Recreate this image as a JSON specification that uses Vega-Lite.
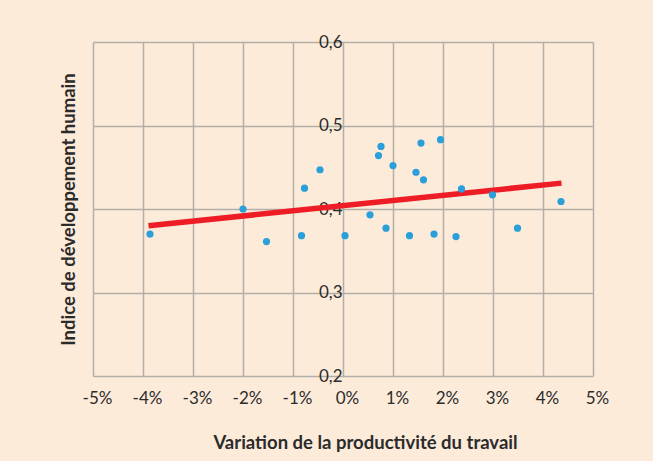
{
  "$schema": "https://vega.github.io/schema/vega-lite/v6.json",
  "autosize": {"type": "none"},
  "width": 500,
  "height": 334,
  "padding": {"left": 93, "top": 42, "right": 60, "bottom": 85},
  "background": "#FDEBDA",
  "config": {
    "view": {"stroke": null},
    "font": "Lato",
    "axis": {
      "gridColor": "#B4AEA9",
      "gridWidth": 1.5,
      "gridOpacity": 1,
      "domain": false,
      "ticks": false,
      "labelFont": "Lato",
      "labelFontSize": 17,
      "labelColor": "#2B2B2B",
      "titleFont": "Lato",
      "titleFontSize": 18.5,
      "titleFontWeight": "bold",
      "titleColor": "#2B2B2B"
    }
  },
  "datasets": {
    "points": [
      {"productivite": -3.86, "idh": 0.370},
      {"productivite": -2.00, "idh": 0.400},
      {"productivite": -1.53, "idh": 0.361},
      {"productivite": -0.83, "idh": 0.368},
      {"productivite": -0.77, "idh": 0.425},
      {"productivite": -0.46, "idh": 0.447},
      {"productivite": 0.04, "idh": 0.368},
      {"productivite": 0.54, "idh": 0.393},
      {"productivite": 0.71, "idh": 0.464},
      {"productivite": 0.76, "idh": 0.475},
      {"productivite": 0.86, "idh": 0.377},
      {"productivite": 1.00, "idh": 0.452},
      {"productivite": 1.33, "idh": 0.368},
      {"productivite": 1.46, "idh": 0.444},
      {"productivite": 1.56, "idh": 0.479},
      {"productivite": 1.61, "idh": 0.435},
      {"productivite": 1.82, "idh": 0.370},
      {"productivite": 1.95, "idh": 0.483},
      {"productivite": 2.26, "idh": 0.367},
      {"productivite": 2.37, "idh": 0.424},
      {"productivite": 2.99, "idh": 0.417},
      {"productivite": 3.49, "idh": 0.377},
      {"productivite": 4.36, "idh": 0.409}
    ],
    "tendance": [
      {"productivite": -3.89, "idh": 0.380},
      {"productivite": 4.37, "idh": 0.431}
    ]
  },
  "encoding": {
    "x": {
      "field": "productivite",
      "type": "quantitative",
      "scale": {"domain": [-5, 5], "nice": false, "zero": false},
      "axis": {
        "orient": "bottom",
        "values": [-5, -4, -3, -2, -1, 0, 1, 2, 3, 4, 5],
        "labelExpr": "datum.value + '%'",
        "labelFlush": false,
        "labelPadding": 14,
        "labelOffset": 4,
        "grid": true,
        "title": "Variation de la productivité du travail",
        "titleX": 272,
        "titleY": 72,
        "titleBaseline": "alphabetic"
      }
    },
    "y": {
      "field": "idh",
      "type": "quantitative",
      "scale": {"domain": [0.2, 0.6], "nice": false, "zero": false},
      "axis": {
        "orient": "left",
        "offset": -250,
        "values": [0.2, 0.3, 0.4, 0.5, 0.6],
        "labelExpr": "replace(format(datum.value, '.1f'), '.', ',')",
        "labelPadding": 1,
        "labelFlush": false,
        "grid": true,
        "title": "Indice de développement humain",
        "titleX": -269,
        "titleY": 167,
        "titleAngle": -90,
        "titleAlign": "center",
        "titleBaseline": "alphabetic"
      }
    }
  },
  "layer": [
    {
      "data": {"name": "tendance"},
      "mark": {"type": "line", "color": "#EE1D25", "strokeWidth": 5.5, "strokeCap": "butt"}
    },
    {
      "data": {"name": "points"},
      "mark": {"type": "circle", "color": "#2A9FDA", "opacity": 1, "size": 52}
    }
  ]
}
